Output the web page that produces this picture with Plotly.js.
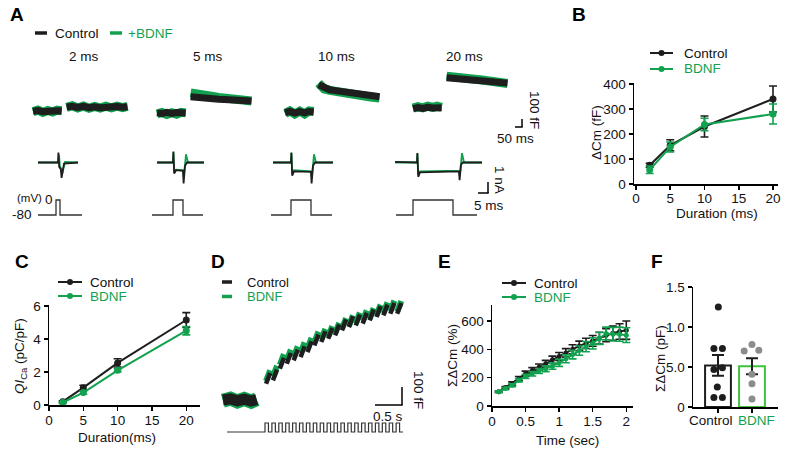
<!DOCTYPE html>
<html>
<head>
<meta charset="utf-8">
<script src="https://cdn.plot.ly/plotly-3.0.1.min.js"></script>
<style>
  html, body { margin: 0; padding: 0; background: #fff; }
  #chart { width: 791px; height: 449px; }
</style>
</head>
<body>
<div id="chart"></div>
<script>
// ---------- Panel A: capacitance sweeps (fF) ----------
const sweepDur = [2, 5, 10, 20];
const sweepLabels = ['2 ms', '5 ms', '10 ms', '20 ms'];
const capPreT = [-230, -195, -160, -125, -90, -58, -25];
const capPostT = [10, 50, 90, 130, 170, 210, 250, 290, 330, 370, 410, 445];
const capPreCtrl = [[10, 18, 4, 14, 6, 16, 12], [-10, -18, -4, -16, -6, -14, -12], [-6, 8, -12, 4, -10, 6, 0], [40, 52, 42, 56, 48, 58, 50]];
const capPreBdnf = [[4, 24, -4, 18, 0, 22, 16], [-24, -6, -28, -8, -26, -4, -10], [-18, 12, -24, 10, -22, 12, 6], [46, 64, 50, 68, 56, 70, 56]];
const capPostCtrl = [
    [60, 68, 54, 66, 52, 62, 50, 60, 54, 64, 56, 62],
    [180, 170, 166, 158, 156, 150, 148, 144, 140, 138, 134, 130],
    [320, 280, 262, 252, 240, 230, 220, 212, 202, 196, 188, 180],
    [402, 398, 392, 388, 382, 376, 372, 362, 356, 350, 344, 340]
];
const capPostBdnf = [
    [55, 74, 48, 70, 44, 66, 46, 68, 50, 70, 52, 66],
    [225, 208, 198, 190, 182, 172, 166, 158, 150, 144, 136, 130],
    [340, 272, 254, 240, 230, 218, 206, 198, 190, 180, 172, 166],
    [422, 420, 410, 404, 394, 386, 380, 370, 362, 352, 344, 336]
];

// ---------- Panel A: Ca currents (nA) and voltage protocol (mV) ----------
const curTCtrl = [
    [-9, 1, 1.2, 1.6, 2.4, 2.8, 4, 11],
    [-8, 0, 0.2, 0.6, 1.5, 5, 5.3, 6, 7, 15.5],
    [-9, 0, 0.2, 0.6, 1.5, 10, 10.3, 11, 12, 21],
    [-9, 2, 2.2, 2.6, 3.5, 23, 23.3, 24, 25, 34.5]
];
const curCtrl = [
    [0, 0, 0.9, -0.4, -0.6, -1.4, -0.1, 0],
    [0, 0, 1.0, -1.0, -0.7, -0.75, -1.9, -0.3, 0, 0],
    [0, 0, 0.9, -1.2, -0.8, -0.85, -1.9, -0.3, 0, 0],
    [0.05, 0, 0.85, -1.3, -0.9, -0.8, -1.6, -0.2, 0, 0]
];
const curTBdnf = [
    [-9, 1.3, 1.5, 1.9, 2.6, 3, 4.5, 11],
    [-8, 0, 0.2, 0.6, 1.5, 5, 5.4, 6.5, 7.5, 15.5],
    [-9, 0, 0.2, 0.6, 1.5, 10, 10.4, 11.5, 12.5, 21],
    [-9, 2, 2.2, 2.6, 3.5, 23, 23.4, 24.5, 25.5, 34.5]
];
const curBdnf = [
    [0, 0, 0.7, -0.3, -0.6, -1.1, 0.05, 0],
    [0, 0, 0.9, -0.9, -0.65, -0.7, -1.3, 0.75, 0, 0],
    [0, 0, 0.85, -1.0, -0.7, -0.8, -1.4, 0.75, 0, 0],
    [0, 0, 0.8, -1.1, -0.8, -0.75, -1.2, 0.85, 0, 0]
];
const vStart = [-9, -10.5, -10, -8.5];
const vEnd = [13, 15, 20.5, 32];
const holdMv = -80, stepMv = 0;

// ---------- Panel B: dCm vs duration ----------
const bDur = [2, 5, 10, 20];
const bCtrl = [75, 155, 230, 340];
const bCtrlErr = [8, 22, 42, 52];
const bBdnf = [57, 148, 238, 280];
const bBdnfErr = [15, 20, 25, 40];

// ---------- Panel C: QICa vs duration ----------
const cCtrl = [0.2, 1.05, 2.55, 5.15];
const cCtrlErr = [0.05, 0.15, 0.25, 0.45];
const cBdnf = [0.15, 0.75, 2.1, 4.5];
const cBdnfErr = [0.05, 0.1, 0.1, 0.25];

// ---------- Panel D: train recording ----------
const dBaseT = [-0.61, -0.5, -0.4, -0.3, -0.2, -0.12];
const dBaseCtrl = [0, 6, -4, 5, -6, 2];
const dBaseBdnf = [-4, 8, -8, 6, -9, 4];
const dPulseT = [0, 0.1, 0.2, 0.3, 0.4, 0.5, 0.6, 0.7, 0.8, 0.9, 1.0, 1.1, 1.2, 1.3, 1.4, 1.5, 1.6, 1.7, 1.8, 1.9];
const dBlockCtrl = [120, 139, 204, 231, 250, 268, 296, 333, 352, 370, 389, 417, 435, 444, 454, 472, 491, 500, 509, 509];
const dBlockBdnf = [135, 160, 225, 250, 268, 290, 315, 350, 365, 380, 398, 425, 440, 455, 468, 480, 500, 512, 522, 520];
const dStimStart = -0.55, dStimEnd = 2.0, dPulseW = 0.05;

// ---------- Panel E: cumulative dCm (%) ----------
const eTime = [0.1, 0.2, 0.3, 0.4, 0.5, 0.6, 0.7, 0.8, 0.9, 1.0, 1.1, 1.2, 1.3, 1.4, 1.5, 1.6, 1.7, 1.8, 1.9, 2.0];
const eCtrl = [100, 130, 158, 193, 228, 251, 274, 298, 326, 350, 375, 400, 424, 442, 460, 479, 500, 514, 526, 535];
const eCtrlErr = [5, 8, 12, 15, 18, 20, 22, 24, 26, 28, 30, 32, 34, 36, 38, 42, 46, 50, 55, 65];
const eBdnf = [100, 123, 147, 181, 209, 228, 247, 263, 281, 305, 333, 363, 391, 419, 442, 477, 512, 507, 507, 500];
const eBdnfErr = [5, 8, 10, 12, 14, 16, 18, 20, 22, 25, 28, 30, 33, 36, 40, 42, 45, 48, 50, 52];

// ---------- Panel F: total dCm (pF) ----------
const fGroups = ['Control', 'BDNF'];
const fMeans = [0.52, 0.51];
const fSem = [0.13, 0.10];
const fCtrlPts = [1.25, 0.73, 0.73, 0.47, 0.49, 0.25, 0.12, 0.12];
const fCtrlJit = [0.01, -0.12, 0.13, -0.12, 0.13, -0.02, -0.12, 0.13];
const fBdnfPts = [0.78, 0.70, 0.71, 0.41, 0.29, 0.10];
const fBdnfJit = [0, -0.23, 0.2, 0, 0, 0];

// ---------- helpers ----------
const W = 791, H = 449;
const FONT = 'Liberation Sans, Arial, Helvetica, sans-serif';
const BLACK = '#1e1e1e';
const GREEN = '#12a24f';
const BAR_GREEN = '#3cc43c';
const GRAY = '#8c8c8c';
const TXT = '#111';

const px = x => x / W;
const py = y => 1 - y / H;
const xd = (a, b) => [px(a), px(b)];
const yd = (top, bottom) => [py(bottom), py(top)];
const axId = (l, n) => n === 1 ? l : l + n;
const axKey = (l, n) => n === 1 ? l + 'axis' : l + 'axis' + n;

function line(x, y, xa, ya, color, width) {
    return { x, y, xaxis: xa, yaxis: ya, type: 'scatter', mode: 'lines',
             line: { color, width }, hoverinfo: 'skip', showlegend: false, cliponaxis: false };
}

function errLine(x, y, err, xa, ya, color, size, width) {
    return { x, y, xaxis: xa, yaxis: ya, type: 'scatter', mode: 'lines+markers',
             line: { color, width }, marker: { color, size },
             error_y: { type: 'data', array: err, color, thickness: 1.6, width: 4 },
             hoverinfo: 'skip', showlegend: false, cliponaxis: false };
}

const annotations = [];
function note(text, x, y, anchor = 'center', color = TXT, extra = {}) {
    annotations.push(Object.assign({
        xref: 'paper', yref: 'paper', x: px(x), y: py(y), text, showarrow: false,
        xanchor: anchor, yanchor: 'middle',
        font: { family: FONT, size: 13.5, color }
    }, extra));
}
function panel(letter, x, y) {
    note('<b>' + letter + '</b>', x, y, 'center', '#000', { font: { family: FONT, size: 19, color: '#000' } });
}

const shapes = [];
function seg(x0, y0, x1, y1, color, width) {
    shapes.push({ type: 'line', xref: 'paper', yref: 'paper',
                  x0: px(x0), y0: py(y0), x1: px(x1), y1: py(y1), line: { color, width } });
}
function dot(cx, cy, r, color) {
    shapes.push({ type: 'circle', xref: 'paper', yref: 'paper',
                  x0: px(cx - r), x1: px(cx + r), y0: py(cy + r), y1: py(cy - r),
                  fillcolor: color, line: { color, width: 0 } });
}
function legendRow(x0, x1, y, color, withDot) {
    seg(x0, y, x1, y, color, withDot ? 2 : 3.5);
    if (withDot) dot((x0 + x1) / 2, y, 3, color);
}

function hidden(domain, range) {
    return { visible: false, domain, range, fixedrange: true };
}
function prism(domain, range, extra) {
    return Object.assign({
        domain, range, fixedrange: true, showline: true, linecolor: '#000', linewidth: 1.5,
        ticks: 'outside', ticklen: 4, tickwidth: 1.5, tickcolor: '#000',
        showgrid: false, zeroline: false, tickfont: { family: FONT, size: 13.5, color: TXT }
    }, extra);
}

const traces = [];
const layout = {
    width: W, height: H, margin: { l: 0, r: 0, t: 0, b: 0 },
    paper_bgcolor: '#fff', plot_bgcolor: 'rgba(0,0,0,0)',
    font: { family: FONT, size: 13.5, color: TXT },
    showlegend: false
};

// ---------- Panel A ----------
const capLeft = [33, 157, 285, 413];     // px where each pre-pulse segment starts
const onsetPx = [56, 173, 291, 413];     // px of each voltage step onset
layout.yaxis = Object.assign(hidden(yd(60, 140), [-329, 612]), { anchor: 'x' });
layout.yaxis2 = Object.assign(hidden(yd(145, 190), [-2.5, 1.59]), { anchor: 'x5' });
layout.yaxis3 = Object.assign(hidden(yd(195, 220), [-106.7, 26.7]), { anchor: 'x5' });

sweepDur.forEach((d, i) => {
    const nc = i + 1, ni = i + 5;
    layout[axKey('x', nc)] = Object.assign(hidden(xd(capLeft[i] - 1.4, capLeft[i] + 96.6), [-240, 460]), { anchor: 'y' });
    layout[axKey('x', ni)] = Object.assign(hidden(xd(onsetPx[i] - 22, onsetPx[i] + 70), [-11, 35]), { anchor: 'y2' });
    const xa = axId('x', nc), xc = axId('x', ni);

    traces.push(line(capPreT, capPreBdnf[i], xa, 'y', GREEN, 9));
    traces.push(line(capPostT, capPostBdnf[i], xa, 'y', GREEN, 9));
    traces.push(line(capPreT, capPreCtrl[i], xa, 'y', BLACK, 7));
    traces.push(line(capPostT, capPostCtrl[i], xa, 'y', BLACK, 7));

    traces.push(line(curTBdnf[i], curBdnf[i], xc, 'y2', GREEN, 1.8));
    traces.push(line(curTCtrl[i], curCtrl[i], xc, 'y2', BLACK, 1.8));

    traces.push(line([vStart[i], 0, 0, d, d, vEnd[i]],
                     [holdMv, holdMv, stepMv, stepMv, holdMv, holdMv], xc, 'y3', '#333', 1.3));

    annotations.push({ xref: xa, yref: 'paper', x: 135, y: py(56), text: sweepLabels[i],
                       showarrow: false, xanchor: 'center', yanchor: 'middle',
                       font: { family: FONT, size: 13.5, color: TXT } });
});

panel('A', 17, 14);
legendRow(35, 47, 33, BLACK, false);
note('Control', 53, 33, 'left');
legendRow(110, 122, 33, GREEN, false);
note('+BDNF', 126, 33, 'left', GREEN);
note('(mV)', 15, 198, 'left', TXT, { font: { family: FONT, size: 11.5, color: TXT } });
note('0', 49, 199);
note('-80', 34, 215, 'right');
// scale bars
seg(522, 119, 522, 127, '#000', 1.5);
seg(515, 127, 522.7, 127, '#000', 1.5);
note('100 fF', 534, 110, 'center', TXT, { textangle: 90 });
note('50 ms', 515, 138);
seg(488, 182, 488, 193, '#000', 1.5);
seg(478, 193, 488.7, 193, '#000', 1.5);
note('1 nA', 500, 180, 'center', TXT, { textangle: 90 });
note('5 ms', 489, 205);

// ---------- Panel B ----------
layout.xaxis9 = prism(xd(634, 778), [-0.29, 20.73], { anchor: 'y4', tickvals: [0, 5, 10, 15, 20], ticklabelstandoff: -3 });
layout.yaxis4 = prism(yd(83, 184), [0, 404], { anchor: 'x9', tickvals: [0, 100, 200, 300, 400] });
traces.push(errLine(bDur, bCtrl, bCtrlErr, 'x9', 'y4', BLACK, 7, 2));
traces.push(errLine(bDur, bBdnf, bBdnfErr, 'x9', 'y4', GREEN, 7, 2));
panel('B', 579, 15);
legendRow(650, 673, 53, BLACK, true);
note('Control', 682, 53, 'left');
legendRow(650, 673, 69, GREEN, true);
note('BDNF', 682, 69, 'left', GREEN);
note('Duration (ms)', 717, 213);
note('ΔCm (fF)', 596, 133, 'center', TXT, { textangle: -90 });

// ---------- Panel C ----------
layout.xaxis10 = prism(xd(49, 200), [0, 22], { anchor: 'y5', tickvals: [0, 5, 10, 15, 20], ticklabelstandoff: -2 });
layout.yaxis5 = prism(yd(305, 405), [0, 6.06], { anchor: 'x10', tickvals: [0, 2, 4, 6] });
traces.push(errLine(bDur, cCtrl, cCtrlErr, 'x10', 'y5', BLACK, 7, 2));
traces.push(errLine(bDur, cBdnf, cBdnfErr, 'x10', 'y5', GREEN, 7, 2));
panel('C', 22, 261);
legendRow(58, 82, 282, BLACK, true);
note('Control', 88, 282, 'left');
legendRow(58, 82, 296, GREEN, true);
note('BDNF', 88, 296, 'left', GREEN);
note('Duration(ms)', 117, 437);
note('<i>QI</i><sub>Ca</sub> (pC/pF)', 20, 356, 'center', TXT, { textangle: -90 });

// ---------- Panel D ----------
layout.xaxis11 = Object.assign(hidden(xd(220, 410), [-0.652, 2.101]), { anchor: 'y6' });
layout.yaxis6 = Object.assign(hidden(yd(290, 410), [-55.6, 611]), { anchor: 'x11' });
layout.yaxis7 = Object.assign(hidden(yd(418, 436), [-0.444, 1.556]), { anchor: 'x11' });

function blocks(levels) {
    const x = [], y = [];
    dPulseT.forEach((t, k) => {
        x.push(t + 0.015, t + 0.075, null);
        y.push(levels[k] - 30, levels[k] + 30, null);
    });
    return { x, y };
}
const bBlk = blocks(dBlockBdnf), cBlk = blocks(dBlockCtrl);
traces.push(line(dBaseT, dBaseBdnf, 'x11', 'y6', GREEN, 14));
traces.push(line(dBaseT, dBaseCtrl, 'x11', 'y6', BLACK, 11));
traces.push(line(bBlk.x, bBlk.y, 'x11', 'y6', GREEN, 6));
traces.push(line(cBlk.x, cBlk.y, 'x11', 'y6', BLACK, 4.5));

const stimX = [dStimStart], stimY = [0];
dPulseT.forEach(t => {
    stimX.push(t, t, t + dPulseW, t + dPulseW);
    stimY.push(0, 1, 1, 0);
});
stimX.push(dStimEnd);
stimY.push(0);
traces.push(line(stimX, stimY, 'x11', 'y7', '#333', 1.2));

panel('D', 218, 261);
legendRow(222, 232, 282, BLACK, false);
note('Control', 245, 282, 'left', TXT, { font: { family: FONT, size: 13, color: TXT } });
legendRow(222, 232, 296.5, GREEN, false);
note('BDNF', 245, 296.5, 'left', GREEN, { font: { family: FONT, size: 13, color: GREEN } });
seg(402, 387, 402, 405, '#000', 1.5);
seg(375, 405, 402.7, 405, '#000', 1.5);
note('0.5 s', 388, 416);
note('100 fF', 419, 390, 'center', TXT, { textangle: 90 });

// ---------- Panel E ----------
layout.xaxis12 = prism(xd(492, 633), [0, 2.1], { anchor: 'y8', tickvals: [0, 0.5, 1, 1.5, 2], ticklabelstandoff: -2 });
layout.yaxis8 = prism(yd(305, 406), [0, 713], { anchor: 'x12', tickvals: [0, 200, 400, 600] });
traces.push(errLine(eTime, eCtrl, eCtrlErr, 'x12', 'y8', BLACK, 5, 2));
traces.push(errLine(eTime, eBdnf, eBdnfErr, 'x12', 'y8', GREEN, 5, 2));
panel('E', 444, 261);
legendRow(502, 526, 283, BLACK, true);
note('Control', 532, 283, 'left');
legendRow(502, 526, 297, GREEN, true);
note('BDNF', 532, 297, 'left', GREEN);
note('Time (sec)', 567, 440);
note('ΣΔCm (%)', 452, 356, 'center', TXT, { textangle: -90 });

// ---------- Panel F ----------
layout.xaxis13 = prism(xd(693, 778), [-0.735, 1.765], { anchor: 'y9', tickvals: [0, 1], showticklabels: false });
layout.yaxis9 = prism(yd(287, 407), [0, 1.5], { anchor: 'x13', tickvals: [0, 0.5, 1, 1.5],
                                                ticktext: ['0', '5.0', '1.0', '1.5'] });
traces.push({
    x: [0, 1], y: fMeans, xaxis: 'x13', yaxis: 'y9', type: 'bar', width: 0.76,
    marker: { color: '#fff', line: { color: [BLACK, BAR_GREEN], width: 2 } },
    error_y: { type: 'data', array: fSem, color: BLACK, thickness: 2, width: 6 },
    hoverinfo: 'skip', showlegend: false, cliponaxis: false
});
traces.push({
    x: fCtrlPts.map((_, k) => 0 + fCtrlJit[k]), y: fCtrlPts, xaxis: 'x13', yaxis: 'y9',
    type: 'scatter', mode: 'markers', marker: { color: BLACK, size: 7 },
    hoverinfo: 'skip', showlegend: false, cliponaxis: false
});
traces.push({
    x: fBdnfPts.map((_, k) => 1 + fBdnfJit[k]), y: fBdnfPts, xaxis: 'x13', yaxis: 'y9',
    type: 'scatter', mode: 'markers', marker: { color: GRAY, size: 7 },
    hoverinfo: 'skip', showlegend: false, cliponaxis: false
});
panel('F', 657, 261);
note(fGroups[0], 711, 420);
note(fGroups[1], 756, 420, 'center', GREEN);
note('ΣΔCm (pF)', 660, 359, 'center', TXT, { textangle: -90 });

layout.annotations = annotations;
layout.shapes = shapes;

Plotly.newPlot('chart', traces, layout, { staticPlot: true, displayModeBar: false });
</script>
</body>
</html>
